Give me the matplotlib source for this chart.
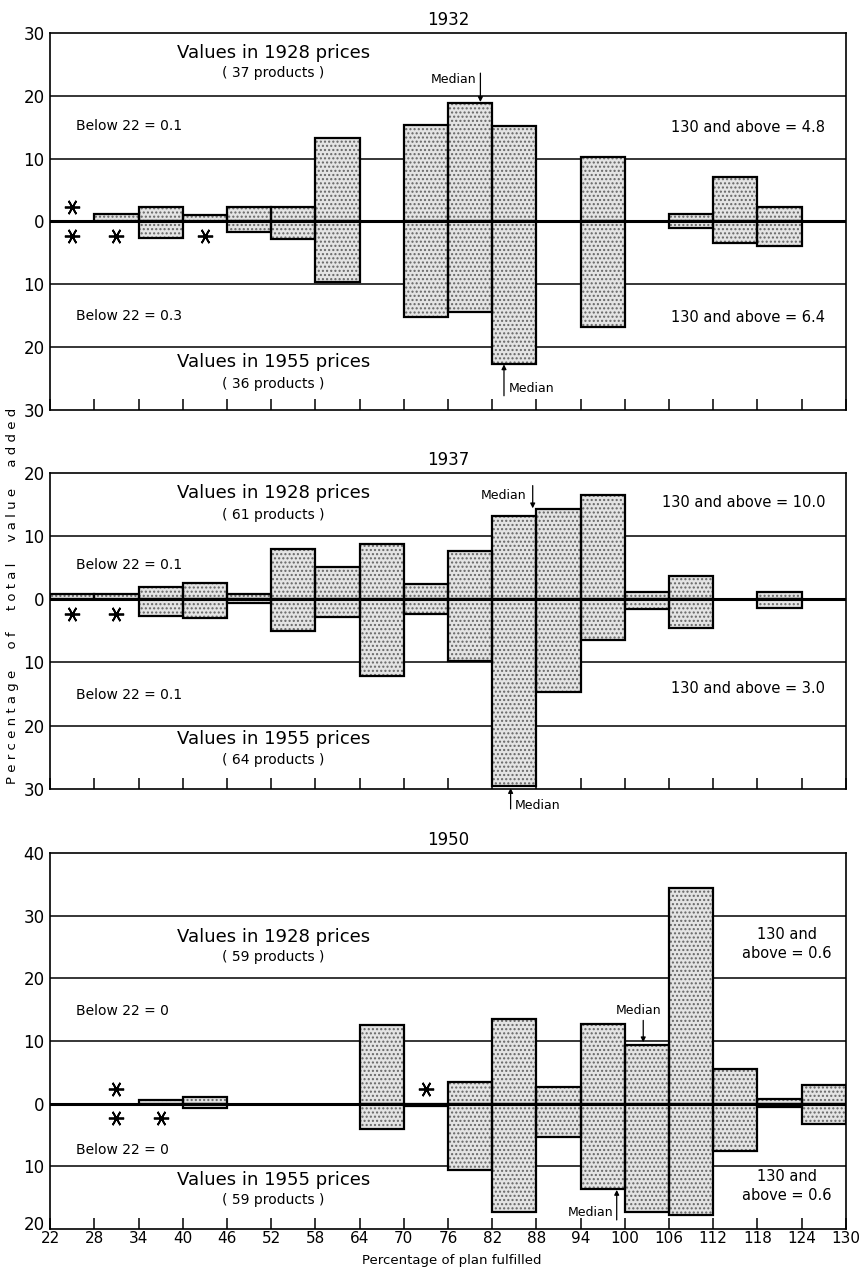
import numpy as np
import matplotlib
matplotlib.use("Agg")
import matplotlib.pyplot as plt
import matplotlib.transforms as mtransforms

nan = np.nan

# bins of plan fulfilment, 22-28 ... 124-130
bin_edges = list(range(22, 131, 6))

# 1932: share of value added (%), upper = 1928 prices, lower = 1955 prices
up_1932 = [nan, 1.2, 2.3, 1.0, 2.3, 2.2, 13.3, nan, 15.4, 18.9, 15.1, nan, 10.2, nan, 1.2, 7.1, 2.2, nan]
lo_1932 = [nan, nan, 2.7, nan, 1.7, 2.8, 9.6, nan, 15.2, 14.5, 22.7, nan, 16.8, nan, 1.0, 3.4, 3.9, nan]
star_up_1932 = [22]
star_lo_1932 = [22, 28, 40]

# 1937
up_1937 = [0.8, 0.8, 2.0, 2.5, 0.9, 7.9, 5.1, 8.7, 2.4, 7.7, 13.2, 14.3, 16.5, 1.1, 3.7, nan, 1.2, nan]
lo_1937 = [nan, nan, 2.6, 2.9, 0.6, 5.0, 2.8, 12.2, 2.4, 9.7, 29.6, 14.7, 6.5, 1.6, 4.5, nan, 1.4, nan]
star_up_1937 = []
star_lo_1937 = [22, 28]

# 1950
up_1950 = [nan, nan, 0.6, 1.0, nan, nan, nan, 12.6, nan, 3.5, 13.6, 2.7, 12.7, 9.4, 34.4, 5.5, 0.8, 3.0]
lo_1950 = [nan, nan, nan, 0.7, nan, nan, nan, 4.1, 0.4, 10.6, 17.4, 5.4, 13.7, 17.4, 17.8, 7.6, 0.5, 3.2]
star_up_1950 = [28, 70]
star_lo_1950 = [28, 34]

years = ["1932", "1937", "1950"]
products_28 = ["37", "61", "59"]
products_55 = ["36", "64", "59"]
below_up = ["0.1", "0.1", "0"]
below_lo = ["0.3", "0.1", "0"]
above_up = ["4.8", "10.0", "0.6"]
above_lo = ["6.4", "3.0", "0.6"]
ylims = [(-30, 30), (-30, 20), (-20, 40)]

fig = plt.figure(figsize=(8.64, 12.68), dpi=100)
ax1 = fig.add_axes([0.058, 0.677, 0.921, 0.297])
ax2 = fig.add_axes([0.058, 0.378, 0.921, 0.249])
ax3 = fig.add_axes([0.058, 0.031, 0.921, 0.296])
axes = [ax1, ax2, ax3]

data = [(up_1932, lo_1932, star_up_1932, star_lo_1932),
        (up_1937, lo_1937, star_up_1937, star_lo_1937),
        (up_1950, lo_1950, star_up_1950, star_lo_1950)]

left = np.array(bin_edges[:-1])

for k, ax in enumerate(axes):
    up, lo, s_up, s_lo = data[k]
    up = np.array(up)
    lo = np.array(lo)
    y0, y1 = ylims[k]
    ax.set_xlim(22, 130)
    ax.set_ylim(y0, y1)

    for g in range(y0 + 10, y1, 10):
        if g != 0:
            ax.axhline(g, color="k", lw=1.1, zorder=0.5)

    for vals, sign in [(up, 1), (lo, -1)]:
        m = ~np.isnan(vals)
        ax.bar(left[m], sign * vals[m], width=6, align="edge", facecolor="#e4e4e4",
               edgecolor="#666666", hatch="....", linewidth=0, zorder=2)
        ax.bar(left[m], sign * vals[m], width=6, align="edge", fill=False,
               edgecolor="k", linewidth=1.6, zorder=3)

    ax.axhline(0, color="k", lw=2.2, zorder=4)

    ax.plot(np.array(s_up) + 3, [2.3] * len(s_up), ls="none", marker=(6, 2, 90),
            ms=11, mew=1.3, color="k", zorder=5)
    ax.plot(np.array(s_lo) + 3, [-2.3] * len(s_lo), ls="none", marker=(6, 2, 90),
            ms=11, mew=1.3, color="k", zorder=5)

    ax.set_yticks(range(y0, y1 + 1, 10))
    ax.set_yticklabels([str(abs(t)) for t in range(y0, y1 + 1, 10)], fontsize=12)
    ax.tick_params(axis="y", length=0, pad=4)
    ax.set_xticks(bin_edges)
    ax.tick_params(axis="x", direction="in", length=8, width=1.1)
    if k < 2:
        ax.set_xticklabels([])
    else:
        ax.set_xticklabels([str(b) for b in bin_edges], fontsize=11)
        ax.tick_params(axis="x", pad=2)
    for sp in ax.spines.values():
        sp.set_linewidth(1.2)

    ax.set_title(years[k], fontsize=12, pad=6)

# lift the lowest y label of the bottom panel clear of the "22"
lab = ax3.get_yticklabels()[0]
lab.set_transform(lab.get_transform() + mtransforms.ScaledTranslation(0, 4 / 72, fig.dpi_scale_trans))

# text blocks
txt_pos = [
    dict(v28=(26.8, 23.6), b_up=15.1, a_up=14.9, b_lo=-15.1, a_lo=-15.3, v55=(-22.4, -25.9)),
    dict(v28=(16.9, 13.4), b_up=5.5, a_up=15.3, b_lo=-15.2, a_lo=-14.1, v55=(-22.1, -25.4)),
    dict(v28=(26.6, 23.4), b_up=14.8, a_up=25.5, b_lo=-7.5, a_lo=-13.2, v55=(-12.2, -15.4)),
]
for k, ax in enumerate(axes):
    p = txt_pos[k]
    ax.text(52.3, p["v28"][0], "Values in 1928 prices", ha="center", va="center", fontsize=13)
    ax.text(52.3, p["v28"][1], "( %s products )" % products_28[k], ha="center", va="center", fontsize=10)
    ax.text(52.3, p["v55"][0], "Values in 1955 prices", ha="center", va="center", fontsize=13)
    ax.text(52.3, p["v55"][1], "( %s products )" % products_55[k], ha="center", va="center", fontsize=10)
    ax.text(25.5, p["b_up"], "Below 22 = %s" % below_up[k], ha="left", va="center", fontsize=10)
    ax.text(25.5, p["b_lo"], "Below 22 = %s" % below_lo[k], ha="left", va="center", fontsize=10)
    if k < 2:
        ax.text(127.2, p["a_up"], "130 and above = %s" % above_up[k], ha="right", va="center", fontsize=10.5)
        ax.text(127.2, p["a_lo"], "130 and above = %s" % above_lo[k], ha="right", va="center", fontsize=10.5)
    else:
        ax.text(122, p["a_up"], "130 and\nabove = %s" % above_up[k], ha="center", va="center",
                fontsize=10.5, linespacing=1.3)
        ax.text(122, p["a_lo"], "130 and\nabove = %s" % above_lo[k], ha="center", va="center",
                fontsize=10.5, linespacing=1.3)

arrow = dict(arrowstyle="-|>", lw=0.9, color="k", mutation_scale=7, shrinkA=0, shrinkB=0)

# medians
ax1.annotate("", xy=(80.4, 19.0), xytext=(80.4, 23.6), arrowprops=arrow, zorder=6)
ax1.text(79.8, 22.6, "Median", ha="right", va="center", fontsize=9)
ax1.annotate("", xy=(83.6, -22.8), xytext=(83.6, -27.8), arrowprops=arrow, zorder=6)
ax1.text(84.3, -26.6, "Median", ha="left", va="center", fontsize=9)

ax2.annotate("", xy=(87.5, 14.4), xytext=(87.5, 18.0), arrowprops=arrow, zorder=6)
ax2.text(86.6, 16.4, "Median", ha="right", va="center", fontsize=9)
ax2.annotate("", xy=(84.5, -29.9), xytext=(84.5, -33.2), arrowprops=arrow,
             annotation_clip=False, zorder=6)
ax2.text(85.0, -32.6, "Median", ha="left", va="center", fontsize=9, clip_on=False)

ax3.annotate("", xy=(102.5, 9.8), xytext=(102.5, 13.3), arrowprops=arrow, zorder=6)
ax3.text(101.9, 14.9, "Median", ha="center", va="center", fontsize=9)
ax3.annotate("", xy=(98.9, -13.8), xytext=(98.9, -18.6), arrowprops=arrow, zorder=6)
ax3.text(98.4, -17.4, "Median", ha="right", va="center", fontsize=9)

fig.text(0.014, 0.53, "P e r c e n t a g e     o f     t o t a l     v a l u e     a d d e d",
         rotation=90, ha="center", va="center", fontsize=9.5)
fig.text(0.523, 0.001, "Percentage of plan fulfilled", ha="center", va="bottom", fontsize=9.5)

fig.savefig("out.png", dpi=100)
